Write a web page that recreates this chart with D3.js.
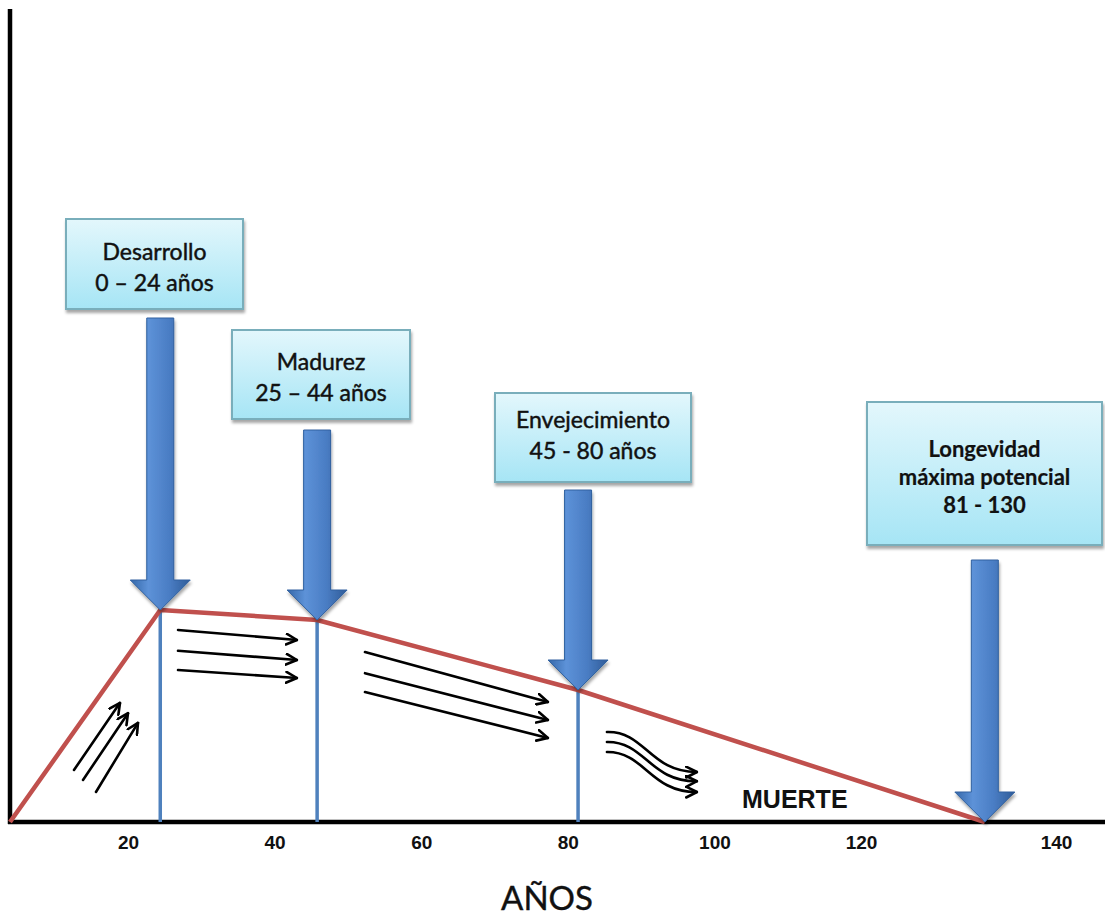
<!DOCTYPE html>
<html>
<head>
<meta charset="utf-8">
<script src="https://cdn.jsdelivr.net/npm/d3@7"></script>
<style>
  html, body { margin: 0; padding: 0; background: #fff; }
  svg { display: block; }
</style>
</head>
<body>
<div id="chart"></div>
<script>
// Life-course vitality curve: years on x, relative vitality on y
const years = [3.9, 24.4, 45.8, 81.4, 132.7];
const vitality = [0, 26.5, 25.25, 16.5, 0];
const tickValues = [20, 40, 60, 80, 100, 120, 140];
const stageTitles = ["Desarrollo", "Madurez", "Envejecimiento", "Longevidad\nmáxima potencial"];
const stageRanges = ["0 – 24 años", "25 – 44 años", "45 - 80 años", "81 - 130"];
const axisTitle = "AÑOS";
const endLabel = "MUERTE";

const W = 1105, H = 922;
const svg = d3.select("#chart").append("svg").attr("width", W).attr("height", H);
const defs = svg.append("defs");

// x axis: piecewise linear, last tick label sits a little further out
const x = d3.scaleLinear().domain([3.9, 120, 140, 145]).range([10, 861, 1056, 1105]);
const y = d3.scaleLinear().domain([0, 100]).range([822, 22]);

// gradients & filters
const boxGrad = defs.append("linearGradient").attr("id", "boxGrad").attr("x1", 0).attr("y1", 0).attr("x2", 0).attr("y2", 1);
boxGrad.append("stop").attr("offset", "0%").attr("stop-color", "#e3f7fc");
boxGrad.append("stop").attr("offset", "100%").attr("stop-color", "#a6e5f5");

const arrowGrad = defs.append("linearGradient").attr("id", "arrowGrad").attr("x1", 0).attr("y1", 0).attr("x2", 1).attr("y2", 0);
arrowGrad.append("stop").attr("offset", "0%").attr("stop-color", "#3567a8");
arrowGrad.append("stop").attr("offset", "30%").attr("stop-color", "#5d92d8");
arrowGrad.append("stop").attr("offset", "65%").attr("stop-color", "#4a7dc4");
arrowGrad.append("stop").attr("offset", "100%").attr("stop-color", "#2f5c98");

const shadow = defs.append("filter").attr("id", "shadow").attr("x", "-10%").attr("y", "-10%").attr("width", "130%").attr("height", "140%");
shadow.append("feDropShadow").attr("dx", 1).attr("dy", 3).attr("stdDeviation", 1.5).attr("flood-color", "#000").attr("flood-opacity", 0.35);

defs.append("marker")
  .attr("id", "chev").attr("viewBox", "0 0 12 12").attr("refX", 11).attr("refY", 6)
  .attr("markerWidth", 13).attr("markerHeight", 13).attr("markerUnits", "userSpaceOnUse")
  .attr("orient", "auto")
  .append("path").attr("d", "M1,1 L11,6 L1,11").attr("fill", "none")
  .attr("stroke", "#000").attr("stroke-width", 2.4).attr("stroke-linecap", "round").attr("stroke-linejoin", "round");

// axes
svg.append("line").attr("x1", x.range()[0]).attr("x2", x.range()[0]).attr("y1", 9).attr("y2", y(0) + 2)
  .attr("stroke", "#000").attr("stroke-width", 4.5);

const xAxis = d3.axisBottom(x).tickValues(tickValues).tickSize(0).tickPadding(14).tickFormat(d3.format("d"));
const gx = svg.append("g").attr("transform", `translate(0,${y(0)})`).call(xAxis);
gx.select(".domain").attr("stroke", "#000").attr("stroke-width", 4.5).attr("d", `M${x.range()[0] - 2},0H${W}`);
gx.attr("font-size", 19);
gx.selectAll(".tick text").attr("font-family", "Liberation Sans, Arial, sans-serif")
  .attr("font-size", 19).attr("font-weight", "bold").attr("fill", "#111");

// vertical stage lines
const pts = years.map((v, i) => ({ yr: v, vit: vitality[i] }));
svg.selectAll("line.stage").data(pts.slice(1, 4)).enter().append("line")
  .attr("class", "stage")
  .attr("x1", d => x(d.yr)).attr("x2", d => x(d.yr))
  .attr("y1", d => y(d.vit)).attr("y2", y(0))
  .attr("stroke", "#4f81bd").attr("stroke-width", 3.5);

// vitality curve
svg.append("path").datum(pts)
  .attr("d", d3.line().x(d => x(d.yr)).y(d => y(d.vit)))
  .attr("fill", "none").attr("stroke", "#c0504d").attr("stroke-width", 4.5).attr("stroke-linejoin", "round");

// stage boxes and big arrows
const boxLayout = [
  { left: 66, top: 219, w: 177, h: 90, base: 260, gap: 31, bold: false, arrowTop: 318 },
  { left: 232, top: 330, w: 178, h: 89, base: 370, gap: 31, bold: false, arrowTop: 430 },
  { left: 495, top: 393, w: 196, h: 89, base: 428, gap: 31, bold: false, arrowTop: 490 },
  { left: 867, top: 402, w: 235, h: 143, base: 457, gap: 28, bold: true, arrowTop: 560 }
];

stageTitles.forEach((title, i) => {
  const L = boxLayout[i];
  const p = pts[i + 1];
  const cx = x(p.yr), tip = y(p.vit);
  const sw = 13.5, hw = 30, hl = 30;
  svg.append("path")
    .attr("d", `M${cx - sw},${L.arrowTop}H${cx + sw}V${tip - hl}H${cx + hw}L${cx},${tip}L${cx - hw},${tip - hl}H${cx - sw}Z`)
    .attr("fill", "url(#arrowGrad)").attr("stroke", "#30609f").attr("stroke-width", 1)
    .attr("filter", "url(#shadow)");

  const g = svg.append("g");
  g.append("rect").attr("x", L.left).attr("y", L.top).attr("width", L.w).attr("height", L.h)
    .attr("fill", "url(#boxGrad)").attr("stroke", "#79aebb").attr("stroke-width", 2)
    .attr("filter", "url(#shadow)");
  const lines = title.split("\n").concat([stageRanges[i]]);
  g.selectAll("text").data(lines).enter().append("text")
    .attr("x", L.left + L.w / 2).attr("y", (d, j) => L.base + j * L.gap)
    .attr("text-anchor", "middle")
    .attr("font-family", "Lato, 'Open Sans', sans-serif")
    .attr("font-size", L.bold ? 22 : 23)
    .attr("font-weight", L.bold ? "bold" : "normal")
    .attr("fill", "#111").attr("stroke", "#111").attr("stroke-width", L.bold ? 0.2 : 0.45)
    .text(d => d);
});

// small flow arrows (data coordinates)
const straightArrows = [
  [[12.63, 6.5], [18.91, 14.9]], [[13.86, 5.25], [20.0, 13.6]], [[15.63, 3.75], [21.36, 12.4]],
  [[26.82, 24.0], [43.05, 22.75]], [[26.82, 21.4], [43.05, 20.25]], [[26.82, 19.0], [43.05, 18.0]],
  [[52.33, 21.25], [77.29, 15.0]], [[52.33, 18.6], [77.29, 12.75]], [[52.33, 16.25], [77.29, 10.5]]
];
svg.selectAll("line.flow").data(straightArrows).enter().append("line")
  .attr("class", "flow")
  .attr("x1", d => x(d[0][0])).attr("y1", d => y(d[0][1]))
  .attr("x2", d => x(d[1][0])).attr("y2", d => y(d[1][1]))
  .attr("stroke", "#000").attr("stroke-width", 2.6).attr("stroke-linecap", "round")
  .attr("marker-end", "url(#chev)");

const wavyArrows = [
  [[85.34, 11.25], [90.53, 11.4], [91.21, 6.2], [97.62, 6.25]],
  [[85.34, 10.0], [90.53, 10.1], [91.21, 5.0], [97.62, 5.1]],
  [[85.34, 8.75], [90.53, 8.8], [91.21, 3.7], [97.62, 3.75]]
];
svg.selectAll("path.wave").data(wavyArrows).enter().append("path")
  .attr("class", "wave")
  .attr("d", d => `M${x(d[0][0])},${y(d[0][1])}C${x(d[1][0])},${y(d[1][1])} ${x(d[2][0])},${y(d[2][1])} ${x(d[3][0])},${y(d[3][1])}`)
  .attr("fill", "none").attr("stroke", "#000").attr("stroke-width", 2.6).attr("stroke-linecap", "round")
  .attr("marker-end", "url(#chev)");

// end label and axis title
svg.append("text").attr("x", 742).attr("y", 808)
  .attr("font-family", "Liberation Sans, Arial, sans-serif").attr("font-weight", "bold").attr("font-size", 25)
  .attr("fill", "#111").text(endLabel);

svg.append("text").attr("x", 547).attr("y", 910).attr("text-anchor", "middle")
  .attr("font-family", "Lato, 'Open Sans', sans-serif").attr("font-size", 33)
  .attr("fill", "#111").attr("stroke", "#111").attr("stroke-width", 0.4).text(axisTitle);
</script>
</body>
</html>
